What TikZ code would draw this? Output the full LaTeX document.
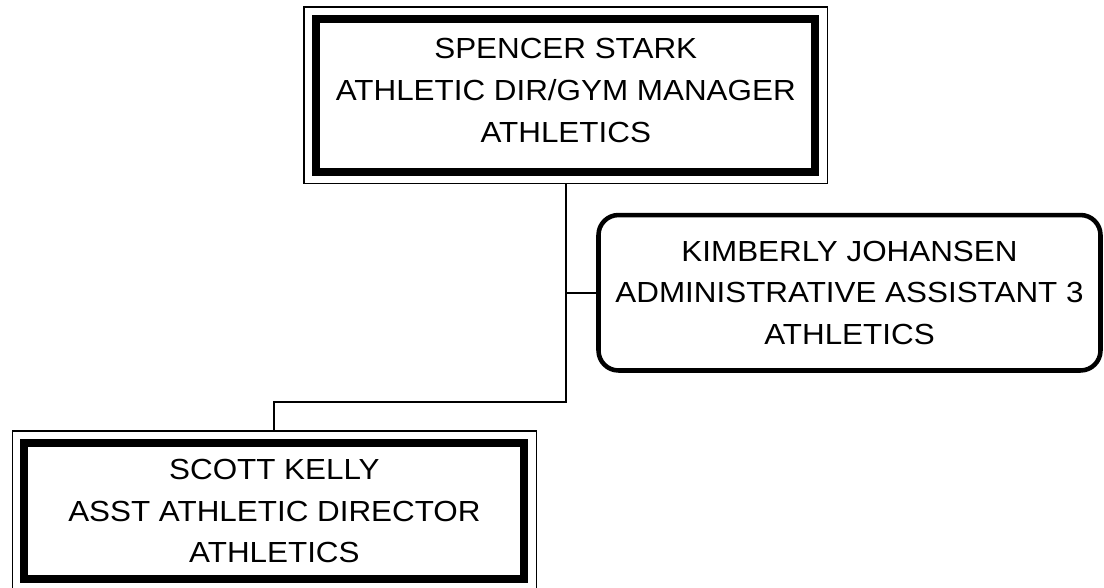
\documentclass[tikz,border=0pt]{standalone}
\usepackage{fontspec}
\newfontfamily\orgfont{Liberation Sans}[FakeStretch=1.08]
\usetikzlibrary{positioning,fit}
\tikzset{
  x=0.75pt,y=-0.75pt,
  card/.style={font=\orgfont\fontsize{21.8}{31.3}\selectfont,align=center,
    inner sep=0pt,outer sep=0pt},
  boss/.style={card,draw,line width=6pt},
  frame/.style={draw,line width=1.3pt,inner sep=9pt,outer sep=0pt},
  staff/.style={card,draw,line width=3.4pt,rounded corners=15pt},
  link/.style={draw,line width=1.5pt},
}
\begin{document}
\begin{tikzpicture}
  \useasboundingbox (0,0) rectangle (1104,587);
  % managers
  \node[boss,minimum width=374.6pt,minimum height=114.4pt,text depth=7.5pt] (stark) at (565.75,95.25)
    {SPENCER STARK\\ATHLETIC DIR/GYM MANAGER\\ATHLETICS};
  \node[frame,fit=(stark)] (starkF) {};
  \node[boss,minimum width=375pt,minimum height=102pt] (kelly) at (274.4,511)
    {SCOTT KELLY\\ASST ATHLETIC DIRECTOR\\ATHLETICS};
  \node[frame,fit=(kelly)] (kellyF) {};
  % assistant
  \node[staff,minimum width=376.5pt,minimum height=116.6pt] (johansen) at (849.5,292.75)
    {KIMBERLY JOHANSEN\\ADMINISTRATIVE ASSISTANT 3\\ATHLETICS};
  \coordinate (split) at (starkF.south |- 0,402.3);
  \draw[link] (starkF.south) -- (split) -| (kellyF.north);
  \draw[link] (starkF.south |- johansen.west) -- (johansen.west);
\end{tikzpicture}
\end{document}
